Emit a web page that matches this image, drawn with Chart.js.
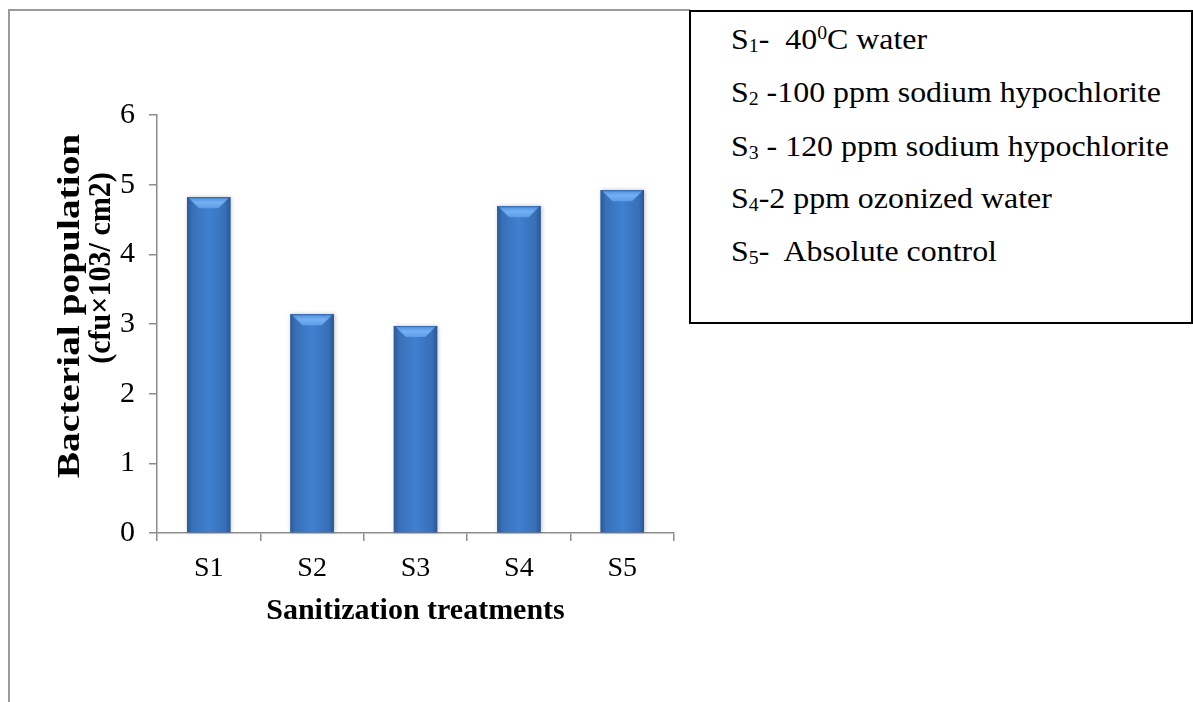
<!DOCTYPE html>
<html>
<head>
<meta charset="utf-8">
<script src="https://cdn.jsdelivr.net/npm/chart.js@4.4.1/dist/chart.umd.min.js"></script>
<style>
  html, body { margin: 0; padding: 0; background: #fff; }
  #wrap { position: relative; width: 1193px; height: 702px; overflow: hidden; }
  #c { position: absolute; left: 0; top: 0; }
  #frameTop { position: absolute; left: 8px; top: 9px; width: 682px; height: 0; border-top: 2px solid #9a9a9a; }
  #frameLeft { position: absolute; left: 8px; top: 9px; width: 0; height: 700px; border-left: 2px solid #9a9a9a; }
  #legend { position: absolute; left: 689px; top: 10px; width: 500px; height: 310px; border: 2px solid #000; background: #fff;
            font-family: "Liberation Serif", "Times New Roman", serif; font-size: 29px; color: #000; }
  #legend div { position: absolute; left: 40px; white-space: nowrap; transform-origin: 0 50%; transform: scaleX(1.1); line-height: 34px; }
  #legend sub { font-size: 0.62em; vertical-align: -0.18em; line-height: 0; }
  #legend sup { font-size: 0.62em; vertical-align: 0.55em; line-height: 0; }
  .ytitle { position: absolute; font-family: "Liberation Serif", "Times New Roman", serif; font-weight: bold;
            line-height: 32px; white-space: nowrap; color: #000; }
  #yt1 { font-size: 31px; transform: translate(-50%, -50%) rotate(-90deg) scaleX(1.27); }
  #yt2 { font-size: 32px; transform: translate(-50%, -50%) rotate(-90deg) scaleX(0.94); }
</style>
</head>
<body>
<div id="wrap">
  <canvas id="c" width="1193" height="702"></canvas>
  <div id="frameTop"></div>
  <div id="frameLeft"></div>
  <div class="ytitle" id="yt1" style="left:69px; top:306px;">Bacterial population</div>
  <div class="ytitle" id="yt2" style="left:99px; top:268px;">(cfu×103/ cm2)</div>
  <div id="legend">
    <div style="top:10px;">S<sub>1</sub>-&nbsp; 40<sup>0</sup>C water</div>
    <div style="top:63px;">S<sub>2</sub> -100 ppm sodium hypochlorite</div>
    <div style="top:117px;">S<sub>3</sub> - 120 ppm sodium hypochlorite</div>
    <div style="top:169px;">S<sub>4</sub>-2 ppm ozonized water</div>
    <div style="top:222px;">S<sub>5</sub>-&nbsp; Absolute control</div>
  </div>
</div>
<script>
const categories = ["S1", "S2", "S3", "S4", "S5"];
const populationValues = [4.82, 3.14, 2.97, 4.69, 4.92];
const yTickValues = [0, 1, 2, 3, 4, 5, 6];
const xAxisTitle = "Sanitization treatments";

const bevelBars = {
  id: 'bevelBars',
  afterDatasetsDraw(chart) {
    const ctx = chart.ctx;
    const meta = chart.getDatasetMeta(0);
    meta.data.forEach(bar => {
      const w = bar.width;
      const left = bar.x - w / 2, right = bar.x + w / 2;
      const top = bar.y, bottom = bar.base;
      ctx.save();
      ctx.shadowColor = 'rgba(0,0,0,0.25)';
      ctx.shadowBlur = 4;
      ctx.shadowOffsetX = 1;
      ctx.shadowOffsetY = 0;
      const g = ctx.createLinearGradient(left, 0, right, 0);
      g.addColorStop(0, '#2b5995');
      g.addColorStop(0.12, '#3870b8');
      g.addColorStop(0.5, '#3f80d0');
      g.addColorStop(0.88, '#386fb7');
      g.addColorStop(1, '#2a5690');
      ctx.fillStyle = g;
      ctx.fillRect(left, top, w, bottom - top);
      ctx.restore();
      const b = Math.min(11, (bottom - top) / 2);
      ctx.save();
      const gb = ctx.createLinearGradient(0, top, 0, top + b);
      gb.addColorStop(0, '#4d8edc');
      gb.addColorStop(0.5, '#74b1f2');
      gb.addColorStop(1, '#5b9be6');
      ctx.fillStyle = gb;
      ctx.beginPath();
      ctx.moveTo(left + 1, top);
      ctx.lineTo(right - 1, top);
      ctx.lineTo(right - 12, top + b);
      ctx.lineTo(left + 12, top + b);
      ctx.closePath();
      ctx.fill();
      ctx.strokeStyle = 'rgba(40,80,140,0.6)';
      ctx.lineWidth = 1;
      ctx.beginPath();
      ctx.moveTo(left, top + 0.5);
      ctx.lineTo(right, top + 0.5);
      ctx.stroke();
      ctx.restore();
    });
  }
};

new Chart(document.getElementById('c'), {
  type: 'bar',
  data: {
    labels: categories,
    datasets: [{
      data: populationValues,
      backgroundColor: '#3d7cc9',
      borderWidth: 0,
      categoryPercentage: 1.0,
      barPercentage: 0.42
    }]
  },
  plugins: [bevelBars],
  options: {
    responsive: false,
    animation: false,
    events: [],
    layout: { padding: { left: 0, right: 519, top: 115, bottom: 0 } },
    plugins: { legend: { display: false }, tooltip: { enabled: false }, title: { display: false } },
    scales: {
      x: {
        afterFit(scale) { scale.height = 169; },
        grid: { display: true, drawOnChartArea: false, drawTicks: true, tickLength: 8, color: '#8c8c8c', lineWidth: 1.5, offset: true },
        border: { display: true, color: '#8c8c8c', width: 1.5 },
        ticks: { color: '#000', padding: 11, font: { family: 'Liberation Serif', size: 28 } },
        title: { display: true, text: xAxisTitle, color: '#000', padding: { top: 0, bottom: 73 },
                 font: { family: 'Liberation Serif', size: 30, weight: 'bold' } }
      },
      y: {
        min: 0, max: 6,
        afterFit(scale) { scale.width = 157; },
        afterBuildTicks(scale) { scale.ticks = yTickValues.map(v => ({ value: v })); },
        grid: { display: true, drawOnChartArea: false, drawTicks: true, tickLength: 8, color: '#8c8c8c', lineWidth: 1.5 },
        border: { display: true, color: '#8c8c8c', width: 1.5 },
        ticks: { color: '#000', padding: 14, font: { family: 'Liberation Serif', size: 30 } }
      }
    }
  }
});
</script>
</body>
</html>
